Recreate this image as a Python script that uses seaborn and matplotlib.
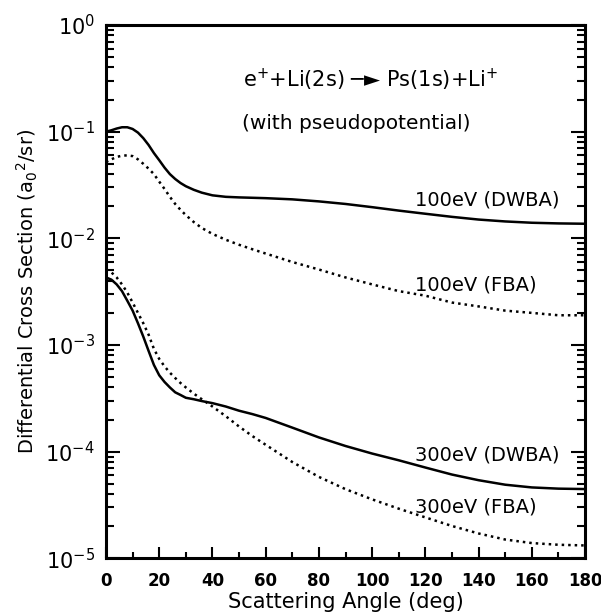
import matplotlib
matplotlib.use("Agg")
import matplotlib.pyplot as plt
import matplotlib.ticker as mticker
import seaborn as sns
import pandas as pd
import numpy as np

sns.set_theme(style="ticks")
plt.rcParams['font.family'] = ['DejaVu Sans']
plt.rcParams.update({"text.color": "black", "axes.labelcolor": "black",
                     "xtick.color": "black", "ytick.color": "black"})

angle = [0, 2, 4, 6, 8, 10, 12, 14, 16, 18, 20, 22, 24, 26, 28, 30, 33, 36,
         40, 45, 50, 55, 60, 70, 80, 90, 100, 110, 120, 130, 140, 150, 160,
         170, 180]

dwba_100 = [0.100, 0.103, 0.107, 0.110, 0.110, 0.106, 0.098, 0.087, 0.075,
            0.063, 0.054, 0.046, 0.040, 0.036, 0.033, 0.0308, 0.0285, 0.0268,
            0.0253, 0.0245, 0.0242, 0.0240, 0.0238, 0.0232, 0.0222, 0.0210,
            0.0196, 0.0182, 0.0170, 0.0159, 0.0150, 0.0144, 0.0140, 0.0138,
            0.0137]
fba_100 = [0.052, 0.055, 0.058, 0.0595, 0.060, 0.059, 0.055, 0.050, 0.045,
           0.040, 0.034, 0.029, 0.0245, 0.021, 0.0185, 0.0165, 0.0142, 0.0125,
           0.0110, 0.0097, 0.0087, 0.0079, 0.0072, 0.0060, 0.0051, 0.0043,
           0.0037, 0.0032, 0.0029, 0.0025, 0.0023, 0.0021, 0.0020, 0.0019,
           0.0019]
dwba_300 = [0.0043, 0.0041, 0.0037, 0.0032, 0.0026, 0.0021, 0.0016, 0.0012,
            0.00088, 0.00065, 0.00052, 0.00045, 0.00040, 0.00036, 0.00034,
            0.00032, 0.00031, 0.000298, 0.000285, 0.000265, 0.000242,
            0.000225, 0.000207, 0.000168, 0.000136, 0.000113, 0.000096,
            0.000083, 0.000071, 0.000061, 0.000054, 0.000049, 0.0000462,
            0.000045, 0.0000446]
fba_300 = [0.0051, 0.0048, 0.0043, 0.0037, 0.0031, 0.0025, 0.0020, 0.0016,
           0.00125, 0.00092, 0.00074, 0.00063, 0.00055, 0.00049, 0.00044,
           0.00040, 0.00035, 0.00031, 0.000265, 0.000215, 0.000172, 0.000140,
           0.000116, 0.000080, 0.000058, 0.0000445, 0.0000357, 0.0000292,
           0.0000242, 0.0000201, 0.0000171, 0.0000150, 0.0000139, 0.0000134,
           0.0000132]

curve_labels = ["100eV (DWBA)", "100eV (FBA)", "300eV (DWBA)", "300eV (FBA)"]
label_y = [0.0229, 0.00366, 9.3e-5, 3.04e-5]

df = pd.DataFrame({
    "angle": angle * 4,
    "dcs": dwba_100 + fba_100 + dwba_300 + fba_300,
    "curve": sum([[c] * len(angle) for c in curve_labels], []),
})

fig = plt.figure(figsize=(6.01, 6.13), dpi=100)
ax = fig.add_axes([0.1764, 0.0892, 0.7970, 0.8700])

dots = (0, (1, 1.6))
styles = {"100eV (DWBA)": "-", "100eV (FBA)": dots,
          "300eV (DWBA)": "-", "300eV (FBA)": dots}
for c in curve_labels:
    sns.lineplot(data=df[df.curve == c], x="angle", y="dcs", ax=ax,
                 color="black", lw=1.8, linestyle=styles[c], legend=False)

ax.set_yscale("log")
ax.set_xlim(0, 180)
ax.set_ylim(1e-5, 1e0)

ax.xaxis.set_major_locator(mticker.MultipleLocator(20))
ax.xaxis.set_minor_locator(mticker.MultipleLocator(10))
ax.yaxis.set_major_locator(mticker.LogLocator(base=10, numticks=10))
ax.yaxis.set_minor_locator(mticker.LogLocator(base=10, subs=np.arange(2, 10), numticks=20))
ax.yaxis.set_minor_formatter(mticker.NullFormatter())

ax.tick_params(axis="y", which="both", direction="in", left=True, right=True,
               width=1.5, labelsize=15, pad=8)
ax.tick_params(axis="y", which="major", length=10)
ax.tick_params(axis="y", which="minor", length=6)
ax.tick_params(axis="x", which="both", direction="in", bottom=True, top=False,
               width=1.5, labelsize=12, pad=10)
ax.tick_params(axis="x", which="major", length=8)
ax.tick_params(axis="x", which="minor", length=4)
for t in ax.get_xticklabels():
    t.set_fontweight("semibold")

for s in ax.spines.values():
    s.set_linewidth(2.2)
    s.set_color("black")

ax.set_xlabel("Scattering Angle (deg)", fontsize=15, labelpad=1)
ax.set_ylabel(r"Differential Cross Section (a$_0$$^2$/sr)", fontsize=14, labelpad=4)

for lab, yv in zip(curve_labels, label_y):
    ax.text(116, yv, lab, fontsize=14, va="center", ha="left")

ax.text(0.551, 0.897, r"e$^{+}$+Li(2s) ─► Ps(1s)+Li$^{+}$", transform=ax.transAxes,
        fontsize=15, ha="center", va="center")
ax.text(0.522, 0.815, "(with pseudopotential)", transform=ax.transAxes,
        fontsize=14.5, ha="center", va="center")

fig.savefig("out.png", dpi=100)
